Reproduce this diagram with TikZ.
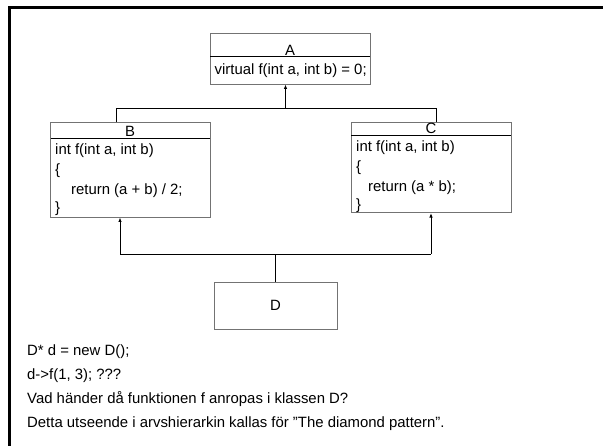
\documentclass[tikz,border=0pt]{standalone}
\usepackage{fontspec}
\setmainfont{Liberation Sans}
\usetikzlibrary{arrows.meta}
\tikzset{
  classbox/.style={draw=black!55, line width=0.9pt, inner sep=0pt},
  sepline/.style={line width=0.9pt},
  codeline/.style={anchor=base west, inner sep=0pt},
  classname/.style={anchor=base, inner sep=0pt},
  inherit/.style={line width=0.9pt, -{Latex[length=4.5pt,width=3.5pt]}},
  link/.style={line width=0.9pt}
}
\begin{document}
\begin{tikzpicture}[x=1pt, y=-1pt, font=\fontsize{14.9}{17}\selectfont]
      \useasboundingbox (0,0) rectangle (603,446);
      % frame of the slide
      \draw[line width=2.5pt] (9.5,446) -- (9.5,7.5) -- (603,7.5);
      % the classes
      \node[classbox, minimum width=160pt, minimum height=51pt] (A) at (290,58.5) {};
      \node[classbox, minimum width=159.5pt, minimum height=94.5pt] (B) at (130.25,169.8) {};
      \node[classbox, minimum width=160pt, minimum height=90pt] (C) at (431,167.6) {};
      \node[classbox, minimum width=123pt, minimum height=47pt] (D) at (275.5,305.5) {D};
      \draw[sepline] (210,56) -- (370,56);
      \draw[sepline] (50.5,138) -- (210,138);
      \draw[sepline] (351,135) -- (511,135);
      % names and members
      \node[classname] (Aname) at (290,55.5) {A};
      \node[codeline] (Af) at (214.5,74.5) {virtual f(int a, int b) = 0;};
      \node[classname] (Bname) at (130,136.5) {B};
      \node[codeline] (Bf1) at (55,155) {int f(int a, int b)};
      \node[codeline] (Bf2) at (55,175) {\{};
      \node[codeline] (Bf3) at (71,195) {return (a + b) / 2;};
      \node[codeline] (Bf4) at (55,213) {\}};
      \node[classname] (Cname) at (431,133.5) {C};
      \node[codeline] (Cf1) at (356,152) {int f(int a, int b)};
      \node[codeline] (Cf2) at (356,172) {\{};
      \node[codeline] (Cf3) at (368,192) {return (a * b);};
      \node[codeline] (Cf4) at (356,210) {\}};
      % inheritance
      \coordinate (topjoin) at (285.5,108.5);
      \coordinate (topleft) at (116,108.5);
      \coordinate (topright) at (436,108.5);
      \coordinate (botjoin) at (275.5,254);
      \coordinate (botleft) at (120,254);
      \coordinate (botright) at (431,254);
      \draw[link] (topleft |- B.north) -- (topleft) -- (topright) -- (topright |- C.north);
      \draw[inherit] (topjoin) -- (topjoin |- A.south);
      \draw[link] (D.north) -- (botjoin);
      \draw[link] (botleft) -- (botright);
      \draw[inherit] (botleft) -- (botleft |- B.south);
      \draw[inherit] (botright) -- (botright |- C.south);
      % the question below
      \node[codeline] (q1) at (27,356) {D* d = new D();};
      \node[codeline] (q2) at (27,380) {d->f(1, 3); ???};
      \node[codeline] (q3) at (27,404) {Vad händer då funktionen f anropas i klassen D?};
      \node[codeline] (q4) at (27,428) {Detta utseende i arvshierarkin kallas för ”The diamond pattern”.};
\end{tikzpicture}
\end{document}
